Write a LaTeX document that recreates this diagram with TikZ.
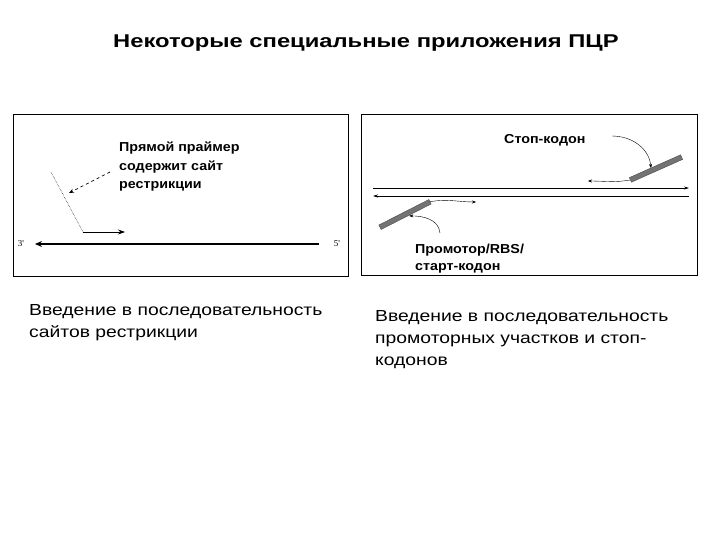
\documentclass[tikz,border=0pt]{standalone}
\usepackage{fontspec}
\setmainfont{Liberation Sans}
\newfontfamily\serifx{Liberation Serif}
\newfontfamily\titlefont[FakeStretch=1.284]{Liberation Sans}
\newfontfamily\lblfont[FakeStretch=1.1]{Liberation Sans}
\newfontfamily\capfont[FakeStretch=1.207]{Liberation Sans}
\usetikzlibrary{arrows.meta}
\begin{document}
\begin{tikzpicture}[x=1pt,y=-1pt,
  frame/.style={draw=black,line width=0.8pt},
  lbl/.style={font=\lblfont\bfseries\fontsize{13}{18.5}\selectfont,align=left,anchor=base west,inner sep=0pt},
  captext/.style={font=\capfont\fontsize{16}{22}\selectfont,align=left,anchor=base west,inner sep=0pt},
  endlbl/.style={font=\serifx\fontsize{9}{10}\selectfont,inner sep=0pt},
  strand/.style={line width=0.7pt,-{Stealth[length=5pt,width=3pt]}},
  bar/.style={draw=black!70,fill=black!55,line width=0.4pt,minimum width=56pt,minimum height=5pt,inner sep=0pt},
  pointer/.style={line width=0.4pt,-{Stealth[length=4pt,width=3pt]}}]
\useasboundingbox (0,0) rectangle (720,540);
\fill[white] (0,0) rectangle (720,540);
% title
\node[font=\titlefont\bfseries\fontsize{18.5}{22}\selectfont,inner sep=0pt,anchor=base west] (title) at (113,48) {Некоторые специальные приложения ПЦР};
% left box
\draw[frame] (13,114) rectangle (348,276);
\node[lbl] (lt) at (119,189) {Прямой праймер\\содержит сайт\\рестрикции};
\coordinate (m3) at (35,244);
\coordinate (m5) at (319,244);
\draw[line width=1.8pt,-{Stealth[length=7pt,width=6pt]}] (m5) -- (m3);
\node[endlbl] (p3) at (21,244) {3'};
\node[endlbl] (p5) at (337,244) {5'};
\coordinate (pa) at (51,172);
\coordinate (pb) at (83,232);
\coordinate (pc) at (125,232);
\draw[line width=0.5pt,densely dotted] (pa) -- (pb);
\draw[line width=0.7pt,-{Stealth[length=7pt,width=5pt]}] (pb) -- (pc);
\coordinate (da) at (110,172);
\coordinate (db) at (69,193);
\draw[line width=0.7pt,dashed,-{Stealth[length=5pt,width=4pt]}] (da) -- (db);
% right box
\draw[frame] (361,114) rectangle (697,275);
\node[lbl] (stop) at (504,144) {Стоп-кодон};
\coordinate (ta) at (373,188);
\coordinate (tb) at (689,188);
\coordinate (ba) at (373,196);
\coordinate (bb) at (689,196);
\draw[strand] (ta) -- (tb);
\draw[strand] (bb) -- (ba);
\node[bar,rotate=24] (sb) at (656,168.5) {};
\node[bar,rotate=27] (pbar) at (405,214.5) {};
\coordinate (sl) at (588,181);
\coordinate (pr) at (476,202);
\draw[pointer] (sb.west) to[out=190,in=0] (sl);
\draw[pointer] (pbar.east) to[out=10,in=180] (pr);
\coordinate (sp) at (612,136);
\draw[pointer] (sp) to[out=0,in=95] ([xshift=-4pt,yshift=-2pt]sb.north);
\coordinate (pp) at (440,233);
\draw[pointer] (pp) to[out=95,in=0] ([xshift=3pt,yshift=1pt]pbar.south);
\node[lbl,font=\lblfont\bfseries\fontsize{13}{17}\selectfont] (prom) at (415,270) {Промотор/RBS/\\старт-кодон};
% captions
\node[captext] (c1) at (29,337.5) {Введение в последовательность\\сайтов рестрикции};
\node[captext] (c2) at (375,365.5) {Введение в последовательность\\промоторных участков и стоп-\\кодонов};
\end{tikzpicture}
\end{document}
